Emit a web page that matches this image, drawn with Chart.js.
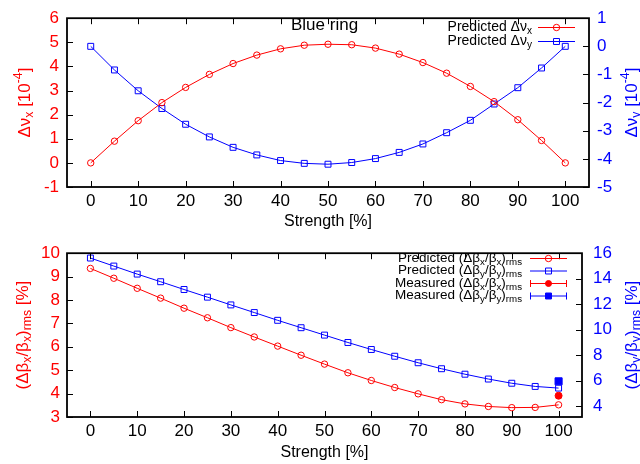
<!DOCTYPE html>
<html>
<head>
<meta charset="utf-8">
<script src="https://cdn.jsdelivr.net/npm/chart.js@4.4.1/dist/chart.umd.min.js"></script>
<style>
  body { margin: 0; background: #fff; }
  canvas { display: block; }
</style>
</head>
<body>
<canvas id="tuneChart" width="640" height="232"></canvas>
<canvas id="betaChart" width="640" height="232"></canvas>
<script>
// strength of the correction, in %
const strength = [0, 5, 10, 15, 20, 25, 30, 35, 40, 45, 50, 55, 60, 65, 70, 75, 80, 85, 90, 95, 100];

// tune shifts [1e-4]
const tuneShiftX = [0, 0.90, 1.75, 2.50, 3.13, 3.67, 4.12, 4.47, 4.73, 4.88, 4.92, 4.90, 4.76, 4.51, 4.16, 3.72, 3.17, 2.54, 1.79, 0.93, 0];
const tuneShiftY = [0, -0.84, -1.58, -2.21, -2.77, -3.22, -3.59, -3.86, -4.06, -4.16, -4.19, -4.13, -3.99, -3.77, -3.47, -3.07, -2.63, -2.05, -1.47, -0.77, 0];

// rms beta beating [%]
const betaBeatX = [9.35, 8.93, 8.50, 8.08, 7.65, 7.24, 6.82, 6.42, 6.03, 5.64, 5.26, 4.89, 4.56, 4.26, 3.99, 3.74, 3.56, 3.45, 3.40, 3.41, 3.52];
const betaBeatY = [15.62, 14.99, 14.36, 13.76, 13.15, 12.55, 11.94, 11.34, 10.73, 10.15, 9.57, 8.99, 8.44, 7.91, 7.40, 6.93, 6.50, 6.12, 5.79, 5.54, 5.41];

// measurement
const measStrength = [100];
const measBetaX = [3.91];
const measBetaY = [5.94];

// tick labels
const strengthTicks = [0, 10, 20, 30, 40, 50, 60, 70, 80, 90, 100];
const tuneXTicks = [-1, 0, 1, 2, 3, 4, 5, 6];
const tuneYTicks = [-5, -4, -3, -2, -1, 0, 1];
const betaXTicks = [3, 4, 5, 6, 7, 8, 9, 10];
const betaYTicks = [4, 6, 8, 10, 12, 14, 16];

const RED = '#ff0000';
const BLUE = '#0000ff';
const FONT = '"Liberation Sans", Arial, sans-serif';
const NONE = 'rgba(0,0,0,0)';

const pts = (xs, ys) => xs.map((x, i) => ({ x: x, y: ys[i] }));

function makeAxis(pos, min, max, tickValues, color, size, pad) {
    return {
        type: 'linear',
        position: pos,
        min: min,
        max: max,
        grid: { display: false, drawTicks: false },
        border: { display: false },
        afterBuildTicks: s => { s.ticks = tickValues.map(v => ({ value: v })); },
        afterFit: s => {
            if (pos === 'bottom') s.height = size; else s.width = size;
        },
        ticks: { color: color, font: { family: FONT, size: 17 }, padding: pad, autoSkip: false, maxRotation: 0 }
    };
}

// text with sub / superscripts: parts = [[text, mode]], mode 0 normal, 1 sub, 2 sup
function richText(ctx, parts, x, y, size, align) {
    const fontFor = m => (m ? size * 0.72 : size) + 'px ' + FONT;
    const widths = parts.map(([t, m]) => { ctx.font = fontFor(m); return ctx.measureText(t).width; });
    const total = widths.reduce((a, b) => a + b, 0);
    let cx = align === 'right' ? x - total : align === 'center' ? x - total / 2 : x;
    ctx.textAlign = 'left';
    ctx.textBaseline = 'middle';
    parts.forEach(([t, m], i) => {
        ctx.font = fontFor(m);
        const dy = m === 1 ? size * 0.3 : m === 2 ? -size * 0.38 : 0;
        ctx.fillText(t, cx, y + dy);
        cx += widths[i];
    });
}

function marker(ctx, style, filled, color, r, x, y) {
    ctx.save();
    ctx.strokeStyle = color;
    ctx.fillStyle = filled ? color : NONE;
    ctx.lineWidth = 1;
    Chart.helpers.drawPoint(ctx, { pointStyle: style, radius: r, rotation: 0, borderWidth: 1 }, x, y);
    ctx.restore();
}

// frame, inward ticks, axis titles and key drawn like the gnuplot original
function decorPlugin(cfg) {
    return {
        id: 'decor',
        afterDraw(chart) {
            const ctx = chart.ctx;
            const a = chart.chartArea;
            const sx = chart.scales.x, sy = chart.scales.y, sy2 = chart.scales.y2;
            ctx.save();
            ctx.strokeStyle = '#000';
            ctx.lineWidth = 1;
            sx.ticks.forEach(t => {
                const px = Math.round(sx.getPixelForValue(t.value)) + 0.5;
                ctx.beginPath();
                ctx.moveTo(px, a.bottom); ctx.lineTo(px, a.bottom - 6);
                ctx.moveTo(px, a.top); ctx.lineTo(px, a.top + 6);
                ctx.stroke();
            });
            sy.ticks.forEach(t => {
                const py = Math.round(sy.getPixelForValue(t.value)) + 0.5;
                ctx.beginPath(); ctx.moveTo(a.left, py); ctx.lineTo(a.left + 6, py); ctx.stroke();
            });
            sy2.ticks.forEach(t => {
                const py = Math.round(sy2.getPixelForValue(t.value)) + 0.5;
                ctx.beginPath(); ctx.moveTo(a.right, py); ctx.lineTo(a.right - 6, py); ctx.stroke();
            });
            ctx.lineWidth = 1.8;
            ctx.strokeRect(a.left, a.top, a.right - a.left, a.bottom - a.top);

            // x title
            ctx.fillStyle = '#000';
            richText(ctx, [['Strength [%]', 0]], (a.left + a.right) / 2, cfg.xTitleY, 16, 'center');

            // y titles, rotated
            [[cfg.yTitle, RED, cfg.yTitleX], [cfg.y2Title, BLUE, cfg.y2TitleX]].forEach(([parts, color, tx]) => {
                ctx.save();
                ctx.translate(tx, (a.top + a.bottom) / 2 + cfg.titleShift);
                ctx.rotate(-Math.PI / 2);
                ctx.fillStyle = color;
                richText(ctx, parts, 0, 0, 17, 'center');
                ctx.restore();
            });

            if (cfg.label) {
                ctx.fillStyle = '#000';
                richText(ctx, [[cfg.label, 0]], cfg.labelX, cfg.labelY, 17, 'left');
            }

            // key
            const k = cfg.key;
            k.items.forEach((it, i) => {
                const y = k.top + i * k.step;
                ctx.fillStyle = '#000';
                richText(ctx, it.parts, k.textRight, y, k.size, 'right');
                ctx.strokeStyle = it.color;
                ctx.lineWidth = 1;
                ctx.beginPath();
                ctx.moveTo(k.x0, y + 0.5); ctx.lineTo(k.x1, y + 0.5);
                if (it.err) {
                    ctx.moveTo(k.x0 + 0.5, y - 3); ctx.lineTo(k.x0 + 0.5, y + 4);
                    ctx.moveTo(k.x1 - 0.5, y - 3); ctx.lineTo(k.x1 - 0.5, y + 4);
                }
                ctx.stroke();
                marker(ctx, it.style, it.filled, it.color, it.r, (k.x0 + k.x1) / 2, y + 0.5);
            });
            ctx.restore();
        }
    };
}

function lineSet(data, yAxis, color, style, r) {
    return {
        data: data, xAxisID: 'x', yAxisID: yAxis,
        borderColor: color, borderWidth: 1, backgroundColor: NONE,
        pointStyle: style, pointRadius: r, pointBorderWidth: 1,
        pointBorderColor: color, pointBackgroundColor: NONE, tension: 0
    };
}

function dotSet(data, yAxis, color, style, r) {
    return {
        data: data, xAxisID: 'x', yAxisID: yAxis, showLine: false,
        pointStyle: style, pointRadius: r, pointBorderWidth: 1,
        pointBorderColor: color, pointBackgroundColor: color
    };
}

const common = {
    responsive: false,
    animation: false,
    devicePixelRatio: 1,
    plugins: { legend: { display: false }, tooltip: { enabled: false } }
};

// ---- top panel: tune shifts ----
new Chart(document.getElementById('tuneChart'), {
    type: 'line',
    data: {
        datasets: [
            lineSet(pts(strength, tuneShiftX), 'y', RED, 'circle', 3.2),
            lineSet(pts(strength, tuneShiftY), 'y2', BLUE, 'rect', 4.2)
        ]
    },
    options: Object.assign({}, common, {
        layout: { padding: { top: 16, left: 0, right: 0, bottom: 0 } },
        scales: {
            x: makeAxis('bottom', -5, 105, strengthTicks, '#000', 45, 4),
            y: makeAxis('left', -1, 6, tuneXTicks, RED, 67, 8),
            y2: makeAxis('right', -5, 1, tuneYTicks, BLUE, 51, 8)
        }
    }),
    plugins: [decorPlugin({
        xTitleY: 222,
        yTitle: [['Δν', 0], ['x', 1], [' [10', 0], ['-4', 2], [']', 0]],
        y2Title: [['Δν', 0], ['y', 1], [' [10', 0], ['-4', 2], [']', 0]],
        yTitleX: 25, y2TitleX: 632, titleShift: 0,
        label: 'Blue ring', labelX: 291, labelY: 25,
        key: {
            top: 27, step: 14, size: 14, textRight: 532, x0: 538, x1: 575,
            items: [
                { parts: [['Predicted Δν', 0], ['x', 1]], color: RED, style: 'circle', filled: false, r: 3.2 },
                { parts: [['Predicted Δν', 0], ['y', 1]], color: BLUE, style: 'rect', filled: false, r: 4.2 }
            ]
        }
    })]
});

// ---- bottom panel: beta beating ----
const bx = [['(Δβ', 0], ['x', 1], ['/β', 0], ['x', 1], [')', 0], ['rms', 1]];
const by = [['(Δβ', 0], ['y', 1], ['/β', 0], ['y', 1], [')', 0], ['rms', 1]];

new Chart(document.getElementById('betaChart'), {
    type: 'line',
    data: {
        datasets: [
            lineSet(pts(strength, betaBeatX), 'y', RED, 'circle', 3.2),
            lineSet(pts(strength, betaBeatY), 'y2', BLUE, 'rect', 4.2),
            dotSet(pts(measStrength, measBetaX), 'y', RED, 'circle', 3.5),
            dotSet(pts(measStrength, measBetaY), 'y2', BLUE, 'rect', 5)
        ]
    },
    options: Object.assign({}, common, {
        layout: { padding: { top: 15, left: 0, right: 0, bottom: 0 } },
        scales: {
            x: makeAxis('bottom', -5, 105, strengthTicks, '#000', 47, 4),
            y: makeAxis('left', 3, 10, betaXTicks, RED, 67, 7),
            y2: makeAxis('right', 3.14, 16, betaYTicks, BLUE, 58, 11)
        }
    }),
    plugins: [decorPlugin({
        xTitleY: 221,
        yTitle: bx.concat([[' [%]', 0]]),
        y2Title: by.concat([[' [%]', 0]]),
        yTitleX: 23, y2TitleX: 632, titleShift: 0,
        label: null,
        key: {
            top: 26, step: 12.5, size: 13.5, textRight: 522, x0: 530, x1: 567,
            items: [
                { parts: [['Predicted ', 0]].concat(bx), color: RED, style: 'circle', filled: false, r: 3.2 },
                { parts: [['Predicted ', 0]].concat(by), color: BLUE, style: 'rect', filled: false, r: 4.2 },
                { parts: [['Measured ', 0]].concat(bx), color: RED, style: 'circle', filled: true, r: 3, err: true },
                { parts: [['Measured ', 0]].concat(by), color: BLUE, style: 'rect', filled: true, r: 4.2, err: true }
            ]
        }
    })]
});
</script>
</body>
</html>
